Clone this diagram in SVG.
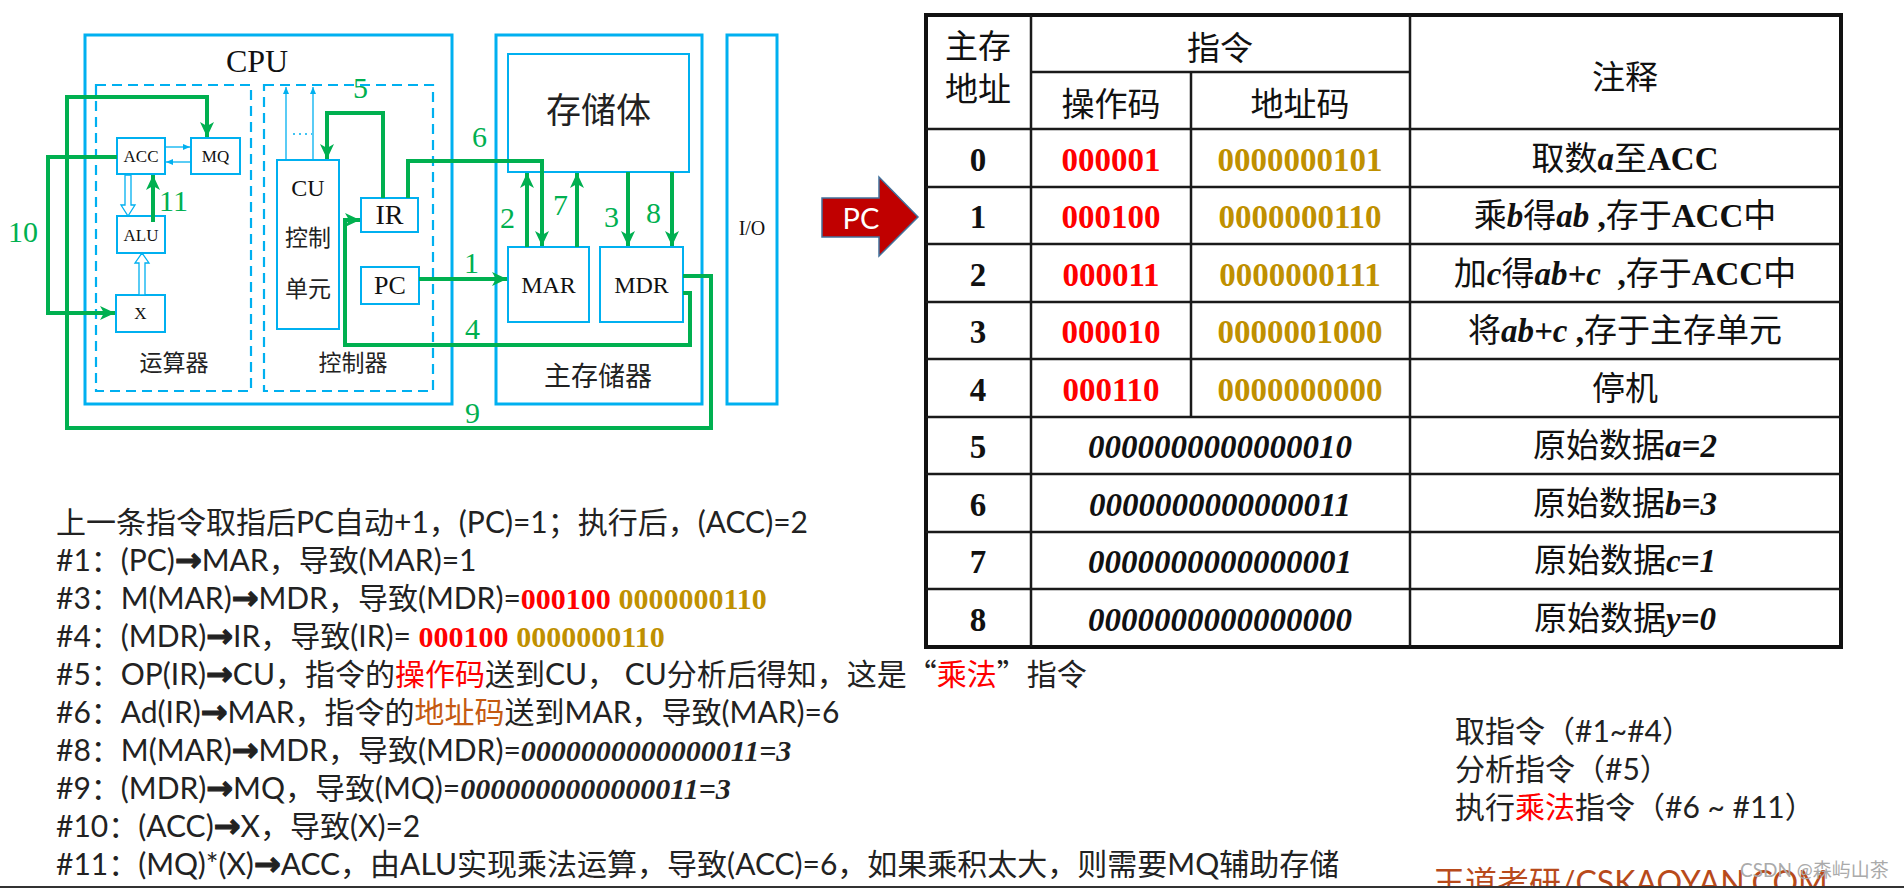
<svg xmlns="http://www.w3.org/2000/svg" width="1904" height="888" viewBox="0 0 1904 888">
<defs>
<style>
.ob{fill:none;stroke:#00B0F0;stroke-width:3}
.ib{fill:#fff;stroke:#00B0F0;stroke-width:2}
.db{fill:none;stroke:#00B0F0;stroke-width:2.2;stroke-dasharray:10 6}
.ga{fill:none;stroke:#00B050;stroke-width:4;marker-end:url(#ah)}
.ta{fill:none;stroke:#00B0F0;stroke-width:1.3;marker-end:url(#bh)}
.hol{fill:#fff;stroke:#00B0F0;stroke-width:1.3}
.ser{font-family:"Liberation Serif","Noto Sans CJK SC",serif;fill:#111}
.cjk{font-family:"Noto Sans CJK SC",sans-serif;fill:#222}
.lbl{font-family:"Liberation Serif",serif;font-size:30px;fill:#00B050}
.tl{stroke:#1a1a1a;stroke-width:2.5}
.tc{font-family:"Noto Sans CJK SC",sans-serif;font-size:33px;fill:#111;text-anchor:middle}
.sb{font-family:"Liberation Serif",serif;font-weight:bold}
.si{font-family:"Liberation Serif",serif;font-weight:bold;font-style:italic}
.red{fill:#FF0000}
.gold{fill:#BF9000}
.bt{font-family:Lato,"Noto Sans CJK SC",sans-serif;font-size:30px;fill:#222}
.arr{font-family:"DejaVu Sans",sans-serif;font-weight:bold;font-size:32px;stroke:#222;stroke-width:1.2}
.fw{font-family:"Noto Sans CJK SC",sans-serif}
</style>
<marker id="ah" markerUnits="userSpaceOnUse" markerWidth="16" markerHeight="14" refX="15" refY="7" orient="auto">
<path d="M0,0 L15,7 L0,14 L4,7 z" fill="#00B050"/>
</marker>
<marker id="bh" markerUnits="userSpaceOnUse" markerWidth="8" markerHeight="8" refX="7" refY="4" orient="auto">
<path d="M0,1 L7,4 L0,7 z" fill="#00B0F0"/>
</marker>
</defs>
<rect width="1904" height="888" fill="#fff"/>

<!-- CPU diagram -->
<g id="cpu"><rect class="ob" x="85" y="35" width="367" height="369"/><text class="ser" x="257" y="72" font-size="32" text-anchor="middle">CPU</text></g>
<g id="alu-unit"><rect class="db" x="96" y="85" width="155" height="306"/><text class="cjk" x="174" y="371" font-size="23" text-anchor="middle">运算器</text></g>
<g id="cu-unit"><rect class="db" x="264" y="85" width="169" height="306"/><text class="cjk" x="353" y="371" font-size="23" text-anchor="middle">控制器</text></g>
<g id="acc"><rect class="ib" x="117" y="138" width="48" height="36"/><text class="ser" x="141" y="162" font-size="17" text-anchor="middle">ACC</text></g>
<g id="mq"><rect class="ib" x="191" y="138" width="49" height="36"/><text class="ser" x="215.5" y="162" font-size="17" text-anchor="middle">MQ</text></g>
<g id="alu"><rect class="ib" x="117" y="216" width="48" height="37"/><text class="ser" x="141" y="241" font-size="17" text-anchor="middle">ALU</text></g>
<g id="x"><rect class="ib" x="116" y="295" width="49" height="37"/><text class="ser" x="140.5" y="319" font-size="17" text-anchor="middle">X</text></g>
<g id="cu"><rect class="ib" x="277" y="160" width="62" height="169"/><text class="ser" x="308" y="196" font-size="24" text-anchor="middle">CU</text><text class="cjk" x="308" y="246" font-size="23" text-anchor="middle">控制</text><text class="cjk" x="308" y="297" font-size="23" text-anchor="middle">单元</text></g>
<g id="ir"><rect class="ib" x="361" y="198" width="57" height="34"/><text class="ser" x="389.5" y="224" font-size="28" text-anchor="middle">IR</text></g>
<g id="pc"><rect class="ib" x="361" y="267" width="58" height="37"/><text class="ser" x="390" y="294" font-size="26" text-anchor="middle">PC</text></g>
<g id="mem"><rect class="ob" x="496" y="35" width="206" height="369"/><text class="cjk" x="598" y="386" font-size="27" text-anchor="middle">主存储器</text></g>
<g id="store"><rect class="ib" x="508" y="54" width="181" height="118"/><text class="cjk" x="598.5" y="123" font-size="35" text-anchor="middle">存储体</text></g>
<g id="mar"><rect class="ib" x="508" y="247" width="81" height="75"/><text class="ser" x="548.5" y="293" font-size="24" text-anchor="middle">MAR</text></g>
<g id="mdr"><rect class="ib" x="600" y="247" width="83" height="75"/><text class="ser" x="641.5" y="293" font-size="24" text-anchor="middle">MDR</text></g>
<g id="io"><rect class="ob" x="727" y="35" width="50" height="369"/><text class="ser" x="752" y="235" font-size="20" text-anchor="middle">I/O</text></g>

<g id="connectors">
<path class="ga" d="M683,276 H711 V428 H67 V97 H207 V137"/>
<path class="ga" d="M117,157 H48 V313 H115"/>
<path class="ga" d="M683,293 H690 V345 H345 V220 H360"/>
<path class="ga" d="M419,279 H507"/>
<path class="ga" d="M383,198 V113 H327 V159"/>
<path class="ga" d="M408,198 V161 H542 V246"/>
<path class="ga" d="M527,247 V173"/>
<path class="ga" d="M577,247 V173"/>
<path class="ga" d="M628,172 V246"/>
<path class="ga" d="M672,172 V246"/>
<path class="ga" d="M153,222 V175"/>
<path class="ta" d="M286,160 V87"/>
<path class="ta" d="M313,160 V87"/>
<path d="M293,134 H312" stroke="#00B0F0" stroke-width="1.3" stroke-dasharray="2 4"/>
<path class="ta" d="M165,147 H190"/>
<path class="ta" d="M191,162 H166"/>
<path class="hol" d="M125,175 H131 V205 H135 L128,216 L121,205 H125 Z"/>
<path class="hol" d="M139,295 H145 V263 H149 L142,253 L135,263 H139 Z"/>
<text class="lbl" x="353" y="98">5</text>
<text class="lbl" x="472" y="147">6</text>
<text class="lbl" x="500" y="228">2</text>
<text class="lbl" x="553" y="215">7</text>
<text class="lbl" x="604" y="227">3</text>
<text class="lbl" x="646" y="223">8</text>
<text class="lbl" x="464" y="273">1</text>
<text class="lbl" x="465" y="339">4</text>
<text class="lbl" x="465" y="423">9</text>
<text class="lbl" x="8" y="242" font-size="32">10</text>
<text class="lbl" x="159" y="211">11</text>
</g>

<!-- PC arrow -->
<g id="pc-arrow">
<path d="M822,198 H879 V177 L918,217 L879,256 V237 H822 Z" fill="#C00000" stroke="#41719C" stroke-width="1.5"/>
<text x="861" y="229" font-family="Lato,sans-serif" font-size="29" fill="#fff" text-anchor="middle">PC</text>
</g>

<!-- Table -->
<g id="table">
<rect x="926" y="15" width="915" height="632" fill="#fff" stroke="#111" stroke-width="4"/>
<line class="tl" x1="1031" y1="72" x2="1410" y2="72"/>
<line class="tl" x1="926" y1="129" x2="1841" y2="129"/>
<line class="tl" x1="926" y1="187" x2="1841" y2="187"/>
<line class="tl" x1="926" y1="244" x2="1841" y2="244"/>
<line class="tl" x1="926" y1="302" x2="1841" y2="302"/>
<line class="tl" x1="926" y1="359" x2="1841" y2="359"/>
<line class="tl" x1="926" y1="417" x2="1841" y2="417"/>
<line class="tl" x1="926" y1="474" x2="1841" y2="474"/>
<line class="tl" x1="926" y1="532" x2="1841" y2="532"/>
<line class="tl" x1="926" y1="589" x2="1841" y2="589"/>
<line class="tl" x1="1031" y1="15" x2="1031" y2="647"/>
<line class="tl" x1="1410" y1="15" x2="1410" y2="647"/>
<line class="tl" x1="1191" y1="72" x2="1191" y2="417"/>
<text class="tc" x="978" y="58">主存</text>
<text class="tc" x="978" y="101">地址</text>
<text class="tc" x="1220" y="60">指令</text>
<text class="tc" x="1111" y="116">操作码</text>
<text class="tc" x="1300" y="116">地址码</text>
<text class="tc" x="1625" y="89">注释</text>
<text class="tc sb" x="978" y="171" font-size="36">0</text>
<text class="tc sb" x="978" y="228" font-size="36">1</text>
<text class="tc sb" x="978" y="286" font-size="36">2</text>
<text class="tc sb" x="978" y="343" font-size="36">3</text>
<text class="tc sb" x="978" y="401" font-size="36">4</text>
<text class="tc sb" x="978" y="458" font-size="36">5</text>
<text class="tc sb" x="978" y="516" font-size="36">6</text>
<text class="tc sb" x="978" y="573" font-size="36">7</text>
<text class="tc sb" x="978" y="631" font-size="36">8</text>
<text class="tc sb red" x="1111" y="171" font-size="36">000001</text>
<text class="tc sb red" x="1111" y="228" font-size="36">000100</text>
<text class="tc sb red" x="1111" y="286" font-size="36">000011</text>
<text class="tc sb red" x="1111" y="343" font-size="36">000010</text>
<text class="tc sb red" x="1111" y="401" font-size="36">000110</text>
<text class="tc sb gold" x="1300" y="171" font-size="36">0000000101</text>
<text class="tc sb gold" x="1300" y="228" font-size="36">0000000110</text>
<text class="tc sb gold" x="1300" y="286" font-size="36">0000000111</text>
<text class="tc sb gold" x="1300" y="343" font-size="36">0000001000</text>
<text class="tc sb gold" x="1300" y="401" font-size="36">0000000000</text>
<text class="tc si" x="1220" y="458" font-size="37">0000000000000010</text>
<text class="tc si" x="1220" y="516" font-size="37">0000000000000011</text>
<text class="tc si" x="1220" y="573" font-size="37">0000000000000001</text>
<text class="tc si" x="1220" y="631" font-size="37">0000000000000000</text>
<text class="tc" x="1625" y="170">取数<tspan class="si">a</tspan>至<tspan class="sb">ACC</tspan></text>
<text class="tc" x="1625" y="227">乘<tspan class="si">b</tspan>得<tspan class="si">ab</tspan><tspan class="sb"> ,</tspan>存于<tspan class="sb">ACC</tspan>中</text>
<text class="tc" x="1625" y="285" xml:space="preserve">加<tspan class="si">c</tspan>得<tspan class="si">ab+c</tspan><tspan class="sb">  ,</tspan>存于<tspan class="sb">ACC</tspan>中</text>
<text class="tc" x="1625" y="342">将<tspan class="si">ab+c</tspan><tspan class="sb"> ,</tspan>存于主存单元</text>
<text class="tc" x="1625" y="400">停机</text>
<text class="tc" x="1625" y="457">原始数据<tspan class="si">a=2</tspan></text>
<text class="tc" x="1625" y="515">原始数据<tspan class="si">b=3</tspan></text>
<text class="tc" x="1625" y="572">原始数据<tspan class="si">c=1</tspan></text>
<text class="tc" x="1625" y="630">原始数据<tspan class="si">y=0</tspan></text>
</g>

<!-- Bottom-left steps -->
<g id="steps">
<text class="bt" x="56" y="533">上一条指令取指后PC自动+1，(PC)=1；执行后，(ACC)=2</text>
<text class="bt" x="56" y="571">#1：(PC)<tspan class="arr">→</tspan>MAR，导致(MAR)=1</text>
<text class="bt" x="56" y="609">#3：M(MAR)<tspan class="arr">→</tspan>MDR，导致(MDR)=<tspan class="sb red">000100</tspan> <tspan class="sb gold">0000000110</tspan></text>
<text class="bt" x="56" y="647">#4：(MDR)<tspan class="arr">→</tspan>IR，导致(IR)= <tspan class="sb red">000100</tspan> <tspan class="sb gold">0000000110</tspan></text>
<text class="bt" x="56" y="685">#5：OP(IR)<tspan class="arr">→</tspan>CU，指令的<tspan fill="#FF0000">操作码</tspan>送到CU， CU分析后得知，这是<tspan class="fw">“</tspan><tspan fill="#FF0000">乘法</tspan><tspan class="fw">”</tspan>指令</text>
<text class="bt" x="56" y="723">#6：Ad(IR)<tspan class="arr">→</tspan>MAR，指令的<tspan fill="#C55A11">地址码</tspan>送到MAR，导致(MAR)=6</text>
<text class="bt" x="56" y="761">#8：M(MAR)<tspan class="arr">→</tspan>MDR，导致(MDR)=<tspan class="si">0000000000000011=3</tspan></text>
<text class="bt" x="56" y="799">#9：(MDR)<tspan class="arr">→</tspan>MQ，导致(MQ)=<tspan class="si">0000000000000011=3</tspan></text>
<text class="bt" x="56" y="837">#10：(ACC)<tspan class="arr">→</tspan>X，导致(X)=2</text>
<text class="bt" x="56" y="875">#11：(MQ)*(X)<tspan class="arr">→</tspan>ACC，由ALU实现乘法运算，导致(ACC)=6，如果乘积太大，则需要MQ辅助存储</text>
</g>

<g id="phases">
<text class="bt" x="1455" y="742" font-size="29">取指令（#1~#4）</text>
<text class="bt" x="1455" y="780" font-size="29">分析指令（#5）</text>
<text class="bt" x="1455" y="818" font-size="29">执行<tspan fill="#FF0000">乘法</tspan>指令（#6 ~ #11）</text>
</g>

<g id="footer">
<text x="1433" y="894" font-family="Lato,'Noto Sans CJK SC',sans-serif" font-size="32" fill="#B84A1B">王道考研/CSKAOYAN.COM</text>
<text x="1740" y="877" font-family="Lato,'Noto Sans CJK SC',sans-serif" font-size="19" fill="#aaa">CSDN @森屿山茶</text>
<line x1="0" y1="887" x2="1904" y2="887" stroke="#333" stroke-width="2"/>
</g>
</svg>
